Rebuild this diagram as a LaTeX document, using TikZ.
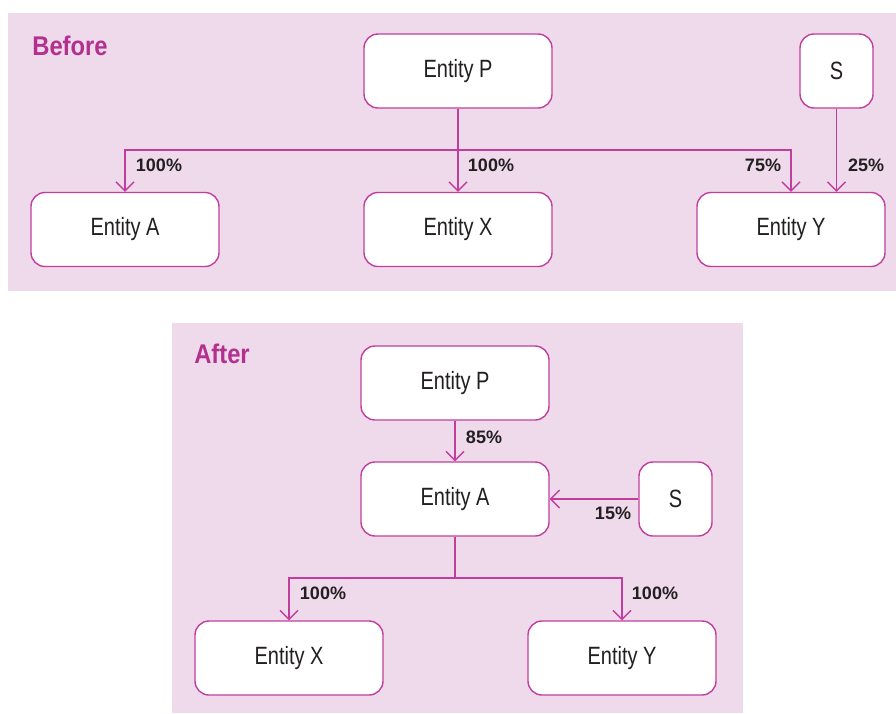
\documentclass[tikz,border=0pt]{standalone}
\usepackage{fontspec}
\setmainfont{Liberation Sans}
\newfontfamily\boxfont[FakeStretch=0.8]{Liberation Sans}
\newfontfamily\headfont[FakeStretch=0.88]{Liberation Sans}
\usetikzlibrary{arrows.meta}
\definecolor{panelpink}{HTML}{EEDAEB}
\definecolor{linemag}{HTML}{C23E9E}
\definecolor{headmag}{HTML}{B3308E}
\definecolor{inkgray}{HTML}{231F20}

\begin{document}
\begin{tikzpicture}
[every node/.style={inner sep=0pt},
 ent/.style={rectangle, rounded corners=14pt, fill=white, draw=linemag, line width=1.4pt, minimum width=188pt, minimum height=74pt, font=\boxfont\fontsize{25}{28}\selectfont, text=inkgray},
 sbox/.style={ent, minimum width=73pt},
 pct/.style={font=\bfseries\fontsize{18}{20}\selectfont, text=inkgray},
 head/.style={font=\headfont\bfseries\fontsize{27}{30}\selectfont, text=headmag},
 arr/.style={line width=1.4pt, color=linemag, -{Straight Barb[length=9pt,width=18pt,line width=1.4pt]}},
 lin/.style={line width=1.4pt, color=linemag}]
\useasboundingbox (0pt,0pt) rectangle (896pt,-713pt);
\fill [panelpink] (8pt,-13pt) rectangle (896pt,-291pt);
\fill [panelpink] (172pt,-323pt) rectangle (743pt,-713pt);
% before
\node (before) [head] at (70pt, -46pt) {Before};
\node (P1) [ent] at (458pt, -71pt) {Entity P};
\node (S1) [sbox] at (836.5pt, -71pt) {S};
\node (A1) [ent] at (125pt, -229.5pt) {Entity A};
\node (X1) [ent] at (458pt, -229.5pt) {Entity X};
\node (Y1) [ent] at (791pt, -229.5pt) {Entity Y};
\coordinate (bus1) at (458pt, -150pt);
\draw [arr] (P1) -- (X1);
\draw [arr] (bus1) -| (A1);
\draw [arr] (bus1) -| (Y1);
\draw [arr] (S1) -- (S1 |- Y1.north);
\node (pA1) [pct] at (159pt, -165pt) {100\%};
\node (pX1) [pct] at (491pt, -165pt) {100\%};
\node (pY1) [pct] at (763pt, -165pt) {75\%};
\node (pS1) [pct] at (866pt, -165pt) {25\%};
% after
\node (after) [head] at (222pt, -354pt) {After};
\node (P2) [ent] at (455pt, -383pt) {Entity P};
\node (A2) [ent] at (455pt, -499pt) {Entity A};
\node (S2) [sbox] at (675.5pt, -499pt) {S};
\node (X2) [ent] at (289pt, -658pt) {Entity X};
\node (Y2) [ent] at (622pt, -658pt) {Entity Y};
\coordinate (bus2) at (455pt, -578pt);
\draw [arr] (P2) -- (A2);
\draw [arr] (S2) -- (A2);
\draw [lin] (A2) -- (bus2);
\draw [arr] (bus2) -| (X2);
\draw [arr] (bus2) -| (Y2);
\node (pA2) [pct] at (484pt, -437pt) {85\%};
\node (pS2) [pct] at (613pt, -513pt) {15\%};
\node (pX2) [pct] at (323pt, -593pt) {100\%};
\node (pY2) [pct] at (655pt, -593pt) {100\%};
\end{tikzpicture}
\end{document}
